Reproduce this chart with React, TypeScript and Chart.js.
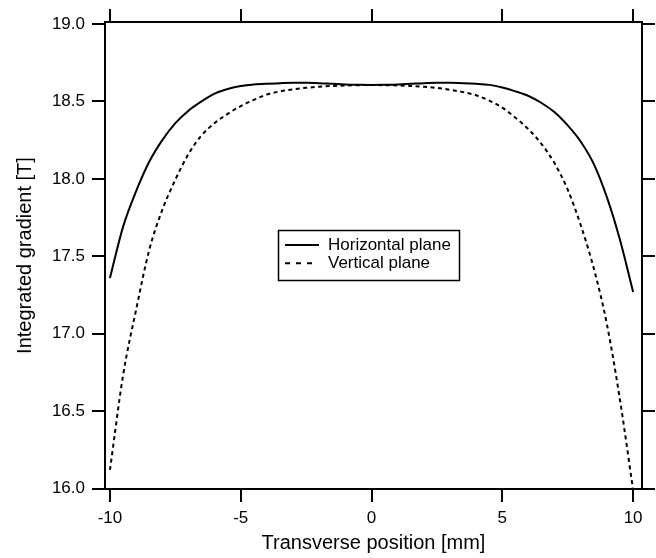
import React, { useEffect, useRef } from "react";
import { Chart, registerables } from "chart.js";

Chart.register(...registerables);

const positions = [
  -10, -9.5, -9, -8.5, -8, -7.5, -7, -6.5, -6, -5.5, -5, -4.5, -4, -3.5, -3, -2.5, -2, -1.5, -1, -0.5,
  0, 0.5, 1, 1.5, 2, 2.5, 3, 3.5, 4, 4.5, 5, 5.5, 6, 6.5, 7, 7.5, 8, 8.5, 9, 9.5, 10,
];

const horizontalPlane = [
  17.36, 17.69, 17.92, 18.11, 18.25, 18.36, 18.44, 18.5, 18.55, 18.58, 18.6, 18.61, 18.615, 18.618, 18.62, 18.62, 18.618, 18.614, 18.61, 18.607,
  18.606, 18.607, 18.61, 18.614, 18.618, 18.62, 18.62, 18.618, 18.614, 18.607, 18.59, 18.565, 18.535, 18.49, 18.43, 18.345, 18.24, 18.095, 17.88, 17.605, 17.27,
];

const verticalPlane = [
  16.12, 16.73, 17.155, 17.54, 17.8, 17.995, 18.16, 18.28, 18.36, 18.42, 18.47, 18.51, 18.545, 18.565, 18.578, 18.588, 18.595, 18.6, 18.603, 18.605,
  18.606, 18.605, 18.603, 18.6, 18.595, 18.587, 18.575, 18.56, 18.54, 18.505, 18.46, 18.395, 18.32, 18.225, 18.1, 17.93, 17.7, 17.42, 17.06, 16.57, 15.99,
];

const seriesLabels = ["Horizontal plane", "Vertical plane"];
const xTickValues = [-10, -5, 0, 5, 10];
const yTickValues = [16, 16.5, 17, 17.5, 18, 18.5, 19];
const xAxisTitle = "Transverse position [mm]";
const yAxisTitle = "Integrated gradient [T]";

const FONT = '"Liberation Sans", Arial, sans-serif';
const INK = "#000";

const insideLegend = {
  id: "insideLegend",
  afterDatasetsDraw(chart: any) {
    const ctx = chart.ctx as CanvasRenderingContext2D;
    const bx = 278.5, by = 230.5, bw = 181, bh = 50;
    ctx.save();
    ctx.fillStyle = "#fff";
    ctx.fillRect(bx, by, bw, bh);
    ctx.strokeStyle = INK;
    ctx.lineWidth = 1.5;
    ctx.strokeRect(bx, by, bw, bh);
    chart.data.datasets.forEach((ds: any, i: number) => {
      const y = 245 + i * 18.3;
      ctx.beginPath();
      ctx.lineWidth = 2;
      ctx.setLineDash(i === 0 ? [] : [5, 6]);
      ctx.moveTo(285, y);
      ctx.lineTo(i === 0 ? 319 : 313, y);
      ctx.stroke();
      ctx.setLineDash([]);
      ctx.fillStyle = INK;
      ctx.font = `17px ${FONT}`;
      ctx.textBaseline = "middle";
      ctx.textAlign = "left";
      ctx.fillText(ds.label, 328, y + 0.5);
    });
    ctx.restore();
  },
};

export default function App() {
  const canvasRef = useRef<HTMLCanvasElement | null>(null);

  useEffect(() => {
    if (!canvasRef.current) return;
    const gridOpts = {
      drawOnChartArea: false,
      drawTicks: true,
      tickLength: 13,
      color: INK,
      lineWidth: 2,
    };
    const borderOpts = { display: true, color: INK, width: 2 };
    const xMin = -10.19, xMax = 10.34, yMin = 15.997, yMax = 19.013;

    const chart = new Chart(canvasRef.current, {
      type: "line",
      data: {
        datasets: [
          {
            label: seriesLabels[0],
            data: positions.map((x, i) => ({ x, y: horizontalPlane[i] })),
            borderColor: INK,
            borderWidth: 2,
            pointRadius: 0,
            fill: false,
            cubicInterpolationMode: "monotone",
            xAxisID: "x",
            yAxisID: "y",
          },
          {
            label: seriesLabels[1],
            data: positions.map((x, i) => ({ x, y: verticalPlane[i] })),
            borderColor: INK,
            borderWidth: 2,
            borderDash: [4, 3.5],
            pointRadius: 0,
            fill: false,
            cubicInterpolationMode: "monotone",
            xAxisID: "x",
            yAxisID: "y",
          },
        ],
      },
      options: {
        responsive: false,
        animation: false,
        layout: { padding: 0 },
        plugins: { legend: { display: false }, tooltip: { enabled: false } },
        scales: {
          x: {
            type: "linear",
            position: "bottom",
            min: xMin,
            max: xMax,
            afterBuildTicks: (s: any) => {
              s.ticks = xTickValues.map((v) => ({ value: v }));
            },
            afterFit: (s: any) => {
              s.height = 69;
            },
            ticks: {
              color: INK,
              font: { family: FONT, size: 17 },
              padding: 6,
              maxRotation: 0,
              autoSkip: false,
              callback: (v: any) => String(v),
            },
            grid: gridOpts,
            border: borderOpts,
            title: {
              display: true,
              text: xAxisTitle,
              color: INK,
              font: { family: FONT, size: 20 },
              padding: { top: 0, bottom: 3 },
            },
          },
          x2: {
            type: "linear",
            position: "top",
            min: xMin,
            max: xMax,
            afterBuildTicks: (s: any) => {
              s.ticks = xTickValues.map((v) => ({ value: v }));
            },
            afterFit: (s: any) => {
              s.height = 22;
            },
            ticks: { display: false },
            grid: gridOpts,
            border: borderOpts,
          },
          y: {
            type: "linear",
            position: "left",
            min: yMin,
            max: yMax,
            afterBuildTicks: (s: any) => {
              s.ticks = yTickValues.map((v) => ({ value: v }));
            },
            afterFit: (s: any) => {
              s.width = 105;
            },
            ticks: {
              color: INK,
              font: { family: FONT, size: 17 },
              padding: 7,
              autoSkip: false,
              callback: (v: any) => Number(v).toFixed(1),
            },
            grid: gridOpts,
            border: borderOpts,
            title: {
              display: true,
              text: yAxisTitle,
              color: INK,
              font: { family: FONT, size: 20 },
              padding: { top: 13, bottom: 0 },
            },
          },
          y2: {
            type: "linear",
            position: "right",
            min: yMin,
            max: yMax,
            afterBuildTicks: (s: any) => {
              s.ticks = yTickValues.map((v) => ({ value: v }));
            },
            afterFit: (s: any) => {
              s.width = 14;
            },
            ticks: { display: false },
            grid: gridOpts,
            border: borderOpts,
          },
        },
      },
      plugins: [insideLegend],
    } as any);

    return () => chart.destroy();
  }, []);

  return (
    <div style={{ position: "absolute", left: 0, top: 0, width: 656, height: 558, background: "#fff" }}>
      <canvas ref={canvasRef} width={656} height={558} style={{ display: "block" }} />
    </div>
  );
}
